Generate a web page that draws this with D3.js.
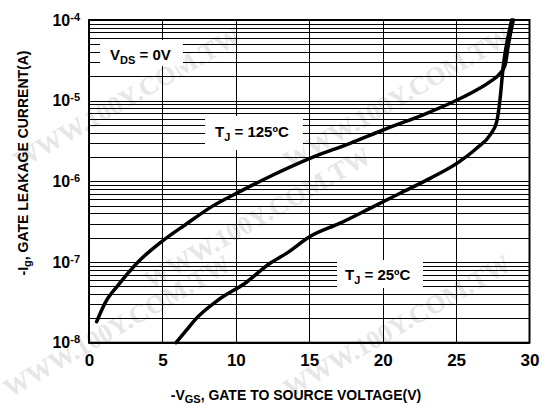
<!DOCTYPE html>
<html>
<head>
<meta charset="utf-8">
<script src="https://cdn.jsdelivr.net/npm/d3@7"></script>
<style>
  body { margin: 0; background: #fff; }
  svg { display: block; font-family: "Liberation Sans", Arial, sans-serif; font-weight: bold; }
</style>
</head>
<body>
<svg width="547" height="407"></svg>
<script>
// -VGS (V) and -Ig (A)
const vgs125 = [0.52, 1.09, 2.0, 3.36, 4.95, 6.54, 8.36, 10.4, 12.53, 15.05, 17.78, 20.03, 23.0, 24.82, 26.18, 27.32, 28.0, 28.34, 28.56, 28.9];
const ig125 = [1.82e-8, 3.1e-8, 5.2e-8, 1.01e-7, 1.79e-7, 2.88e-7, 4.86e-7, 7.67e-7, 1.2e-6, 1.93e-6, 2.96e-6, 4.33e-6, 6.98e-6, 9.7e-6, 1.29e-5, 1.72e-5, 2.19e-5, 2.77e-5, 4.9e-5, 1e-4];

const vgs25 = [5.93, 6.65, 7.22, 8.81, 10.63, 12.33, 13.47, 15.05, 17.1, 19.37, 21.19, 23.23, 25.05, 26.4, 27.32, 27.77, 28.0, 28.22, 28.56, 28.79];
const ig25 = [1e-8, 1.44e-8, 1.92e-8, 3.39e-8, 5.46e-8, 9.66e-8, 1.29e-7, 2.07e-7, 3.03e-7, 4.86e-7, 7.13e-7, 1.09e-6, 1.67e-6, 2.57e-6, 3.76e-6, 5.5e-6, 1.07e-5, 2.77e-5, 6.5e-5, 1e-4];

const xTicks = [0, 5, 10, 15, 20, 25, 30];
const yTicks = [1e-8, 1e-7, 1e-6, 1e-5, 1e-4];
const yTickExp = ["-8", "-7", "-6", "-5", "-4"];

const svg = d3.select("svg");

const plot = { left: 89, right: 529.5, top: 20, bottom: 342.7 };

const xScaler = d3.scaleLinear().domain([0, 30]).range([plot.left, plot.right]);
const yScaler = d3.scaleLog().domain([1e-8, 1e-4]).range([plot.bottom, plot.top]);

// watermark
const wm = svg.append("g")
  .attr("fill", "#e6e6e6")
  .style("font-family", "'Liberation Serif', serif")
  .style("font-weight", "bold")
  .style("font-size", "26px");
const wmPos = [[20, 170], [290, 170], [150, 290], [10, 398], [290, 398]];
wm.selectAll("text")
  .data(wmPos)
  .join("text")
  .attr("transform", (d) => `translate(${d[0]}, ${d[1]}) rotate(-30)`)
  .text("WWW.100Y.COM.TW");

// grid
const grid = svg.append("g").attr("stroke", "#000").attr("stroke-width", 1);

const minorY = [];
for (let e = -8; e < -4; e++) {
  for (let m = 2; m <= 9; m++) minorY.push(m * Math.pow(10, e));
}
grid.selectAll("line.h")
  .data(minorY.concat(yTicks))
  .join("line")
  .attr("class", "h")
  .attr("x1", plot.left)
  .attr("x2", plot.right)
  .attr("y1", (d) => Math.round(yScaler(d)) + 0.5)
  .attr("y2", (d) => Math.round(yScaler(d)) + 0.5);

grid.selectAll("line.v")
  .data(xTicks.slice(1, -1))
  .join("line")
  .attr("class", "v")
  .attr("x1", (d) => Math.round(xScaler(d)) + 0.5)
  .attr("x2", (d) => Math.round(xScaler(d)) + 0.5)
  .attr("y1", plot.top)
  .attr("y2", plot.bottom);

// label boxes (blank out the grid behind them)
const labels = svg.append("g");
function labelBox(x, y, w, h) {
  labels.append("rect")
    .attr("x", x).attr("y", y).attr("width", w).attr("height", h)
    .attr("fill", "#fff");
}
labelBox(100, 40, 83, 26);
labelBox(205, 116, 98, 34);
labelBox(337, 260, 86, 28);

function labelText(x, y, main, sub, rest) {
  const t = labels.append("text")
    .attr("x", x).attr("y", y)
    .style("font-size", "15px");
  t.append("tspan").text(main);
  t.append("tspan").attr("dy", 4).style("font-size", "11px").text(sub);
  t.append("tspan").attr("dy", -4).text(rest);
}
labelText(110, 60, "V", "DS", " = 0V");
labelText(215, 137, "T", "J", " = 125ºC");
labelText(345, 280, "T", "J", " = 25ºC");

// frame
svg.append("rect")
  .attr("x", plot.left)
  .attr("y", plot.top)
  .attr("width", plot.right - plot.left)
  .attr("height", plot.bottom - plot.top)
  .attr("fill", "none")
  .attr("stroke", "#000")
  .attr("stroke-width", 2);

// axes
const xAxisGroup = svg.append("g")
  .attr("transform", `translate(0, ${plot.bottom})`)
  .call(d3.axisBottom(xScaler).tickValues(xTicks).tickSize(0).tickPadding(11));
xAxisGroup.select(".domain").remove();
xAxisGroup.selectAll("text")
  .attr("fill", "#000")
  .style("font-family", "'Liberation Sans', Arial, sans-serif")
  .style("font-weight", "bold")
  .style("font-size", "17px");

const yAxisGroup = svg.append("g")
  .attr("transform", `translate(${plot.left}, 0)`)
  .call(d3.axisLeft(yScaler).tickValues(yTicks).tickSize(0).tickPadding(9).tickFormat(() => ""));
yAxisGroup.select(".domain").remove();
yAxisGroup.selectAll("text")
  .attr("fill", "#000")
  .style("font-family", "'Liberation Sans', Arial, sans-serif")
  .style("font-weight", "bold")
  .style("font-size", "16px")
  .each(function (d, i) {
    const t = d3.select(this);
    t.append("tspan").text("10");
    t.append("tspan").attr("dy", "-0.45em").style("font-size", "11px").text(yTickExp[i]);
  });

// curves
const line = d3.line()
  .x((d) => xScaler(d[0]))
  .y((d) => yScaler(d[1]))
  .curve(d3.curveMonotoneX);

const curves = svg.append("g")
  .attr("fill", "none")
  .attr("stroke", "#000")
  .attr("stroke-width", 3.5)
  .attr("stroke-linecap", "round")
  .attr("stroke-linejoin", "round");
curves.append("path").attr("d", line(d3.zip(vgs125, ig125)));
curves.append("path").attr("d", line(d3.zip(vgs25, ig25)));

// axis titles
const xTitle = svg.append("text")
  .attr("x", 296)
  .attr("y", 400)
  .attr("text-anchor", "middle")
  .style("font-size", "14px");
xTitle.append("tspan").text("-V");
xTitle.append("tspan").attr("dy", 3).style("font-size", "11px").text("GS");
xTitle.append("tspan").attr("dy", -3).text(", GATE TO SOURCE VOLTAGE(V)");

const yTitle = svg.append("text")
  .attr("transform", "translate(28, 163) rotate(-90)")
  .attr("text-anchor", "middle")
  .style("font-size", "14px");
yTitle.append("tspan").text("-I");
yTitle.append("tspan").attr("dy", 3).style("font-size", "11px").text("g");
yTitle.append("tspan").attr("dy", -3).text(",  GATE LEAKAGE CURRENT(A)");
</script>
</body>
</html>
